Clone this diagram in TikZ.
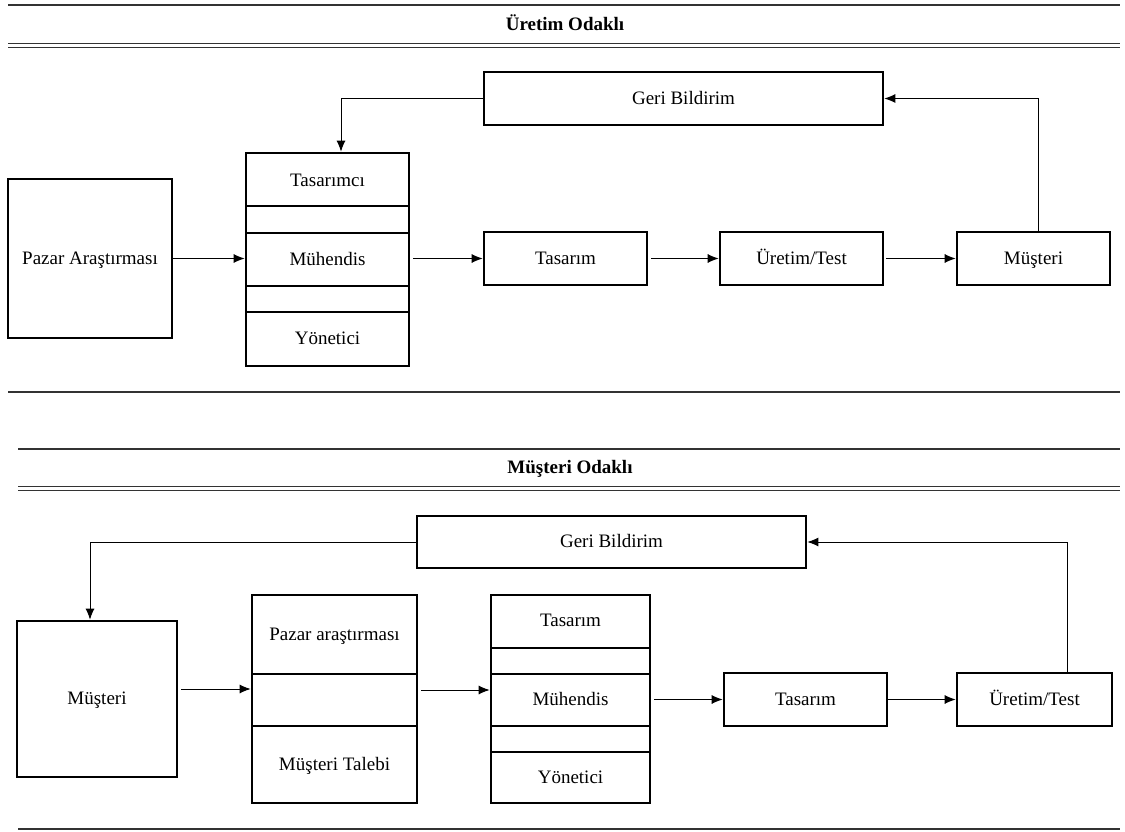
\documentclass[tikz,border=0pt]{standalone}
\usepackage{fontspec}
\setmainfont{Liberation Serif}
\usetikzlibrary{arrows.meta}
\begin{document}
\begin{tikzpicture}[x=1pt,y=-1pt,
  every node/.style={font=\fontsize{19}{22}\selectfont, inner sep=0pt, text height=14.5pt, text depth=3pt},
  box/.style={draw, line width=2.6pt, rectangle},
  divider/.style={line width=1.4pt},
  arr/.style={line width=1pt, -{Latex[length=11pt,width=9pt]}},
  rule/.style={line width=2pt, draw=black!80},
  heading/.style={font=\fontsize{19}{22}\selectfont\bfseries}]
\useasboundingbox (0,0) rectangle (1125,832);

% ---------- Üretim Odaklı ----------
\draw[rule] (8,5) -- (1120,5);
\node[heading] (h1) at (565,25) {Üretim Odaklı};
\draw[rule, line width=1.6pt] (8,43.5) -- (1120,43.5);
\draw[rule, line width=1.6pt] (8,47.5) -- (1120,47.5);

\node[box, minimum width=399pt, minimum height=53pt] (geri1) at (683.5,98.5) {Geri Bildirim};
\node[box, minimum width=164pt, minimum height=159pt] (pazar1) at (90,258.5) {Pazar Araştırması};
\node[box, minimum width=163pt, minimum height=213pt] (col1) at (327.5,259.5) {};
\draw[divider] (246,206) -- (409,206);
\draw[divider] (246,233) -- (409,233);
\draw[divider] (246,286) -- (409,286);
\draw[divider] (246,312) -- (409,312);
\node (tasarimci) at (327.5,181) {Tasarımcı};
\node (muh1) at (327.5,260) {Mühendis};
\node (yon1) at (327.5,339) {Yönetici};
\node[box, minimum width=163pt, minimum height=53pt] (tas1) at (565.5,258.5) {Tasarım};
\node[box, minimum width=163pt, minimum height=53pt] (ure1) at (801.5,258.5) {Üretim/Test};
\node[box, minimum width=153pt, minimum height=53pt] (mus1) at (1033.5,258.5) {Müşteri};

\draw[arr] (pazar1.east) -- (pazar1.east -| col1.west);
\draw[arr] ([xshift=3pt]col1.east |- tas1.west) -- (tas1.west);
\draw[arr] ([xshift=3pt]tas1.east) -- (ure1.west);
\draw[arr] ([xshift=2pt]ure1.east) -- (mus1.west);
\draw[arr] ([xshift=4.5pt]mus1.north) |- (geri1.east);
\draw[arr] (geri1.west) -| ([xshift=13.5pt]col1.north);

\draw[rule] (8,392) -- (1120,392);

% ---------- Müşteri Odaklı ----------
\draw[rule] (18,449) -- (1120,449);
\node[heading] (h2) at (570,468) {Müşteri Odaklı};
\draw[rule, line width=1.6pt] (18,486.5) -- (1120,486.5);
\draw[rule, line width=1.6pt] (18,490.5) -- (1120,490.5);

\node[box, minimum width=389pt, minimum height=52pt] (geri2) at (611.5,542) {Geri Bildirim};
\node[box, minimum width=160pt, minimum height=156pt] (mus2) at (97,699) {Müşteri};
\node[box, minimum width=165pt, minimum height=208pt] (pcol) at (334.5,699) {};
\draw[divider] (252,674) -- (417,674);
\draw[divider] (252,726) -- (417,726);
\node (pazar2) at (334.5,635) {Pazar araştırması};
\node (talep) at (334.5,765) {Müşteri Talebi};
\node[box, minimum width=159pt, minimum height=208pt] (tcol) at (570.5,699) {};
\draw[divider] (491,648) -- (650,648);
\draw[divider] (491,674) -- (650,674);
\draw[divider] (491,726) -- (650,726);
\draw[divider] (491,752) -- (650,752);
\node (tas2a) at (570.5,621) {Tasarım};
\node (muh2) at (570.5,700) {Mühendis};
\node (yon2) at (570.5,778) {Yönetici};
\node[box, minimum width=163pt, minimum height=53pt] (tas2) at (805.5,699.5) {Tasarım};
\node[box, minimum width=155pt, minimum height=53pt] (ure2) at (1034.5,699.5) {Üretim/Test};

\draw[arr] ([xshift=3pt,yshift=10pt]mus2.east) -- ([yshift=10pt]pcol.west);
\draw[arr] ([xshift=3pt,yshift=9pt]pcol.east) -- ([yshift=9pt]tcol.west);
\draw[arr] ([xshift=3pt]tcol.east |- tas2.west) -- (tas2.west);
\draw[arr] (tas2.east) -- (ure2.west);
\draw[arr] ([xshift=32.5pt]ure2.north) |- (geri2.east);
\draw[arr] (geri2.west) -| ([xshift=-7pt]mus2.north);

\draw[rule] (18,829) -- (1120,829);
\end{tikzpicture}
\end{document}
